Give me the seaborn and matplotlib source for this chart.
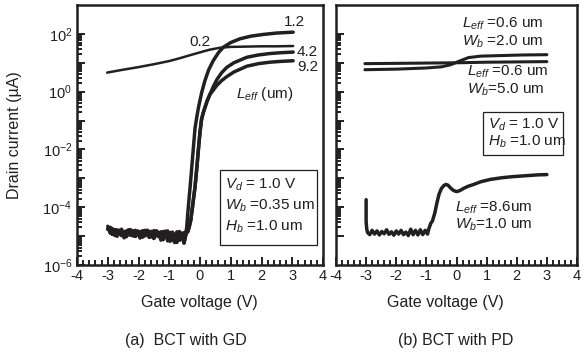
import matplotlib
matplotlib.use('Agg')
import matplotlib.pyplot as plt
import matplotlib.ticker as ticker
from matplotlib.patches import Rectangle
import numpy as np
import pandas as pd
import seaborn as sns

# ---- (a) BCT with GD : drain current (log10 of uA) ----
# shared sub-threshold floor (noisy)
floor_v = [-3.0, -2.92, -2.85, -2.77, -2.7, -2.62, -2.55, -2.47, -2.4, -2.32, -2.25, -2.17,
           -2.1, -2.02, -1.95, -1.87, -1.8, -1.72, -1.65, -1.57, -1.5, -1.42, -1.35, -1.27,
           -1.2, -1.12, -1.05, -0.97, -0.9, -0.82, -0.75, -0.67, -0.6, -0.52, -0.45]
floor_a = [-4.66, -4.90, -4.74, -4.98, -4.78, -4.94, -4.76, -5.06, -4.82, -4.96, -4.78, -5.00,
           -4.80, -4.94, -4.84, -5.04, -4.80, -4.97, -4.83, -5.03, -4.81, -4.99, -4.86, -5.14,
           -4.84, -4.96, -4.82, -5.18, -4.86, -4.98, -5.22, -4.84, -5.10, -4.88, -4.84]
floor_b = [-4.76, -4.70, -4.94, -4.78, -5.00, -4.80, -4.98, -4.84, -5.02, -4.78, -4.97, -4.82,
           -5.01, -4.83, -5.06, -4.82, -4.99, -4.80, -5.04, -4.84, -5.08, -4.82, -5.01, -4.86,
           -5.12, -4.83, -5.16, -4.88, -5.06, -5.22, -4.86, -5.14, -4.90, -5.24, -4.90]

# L_eff = 1.2 um, rising part
l12_v = [-0.43, -0.40, -0.36, -0.32, -0.27, -0.22, -0.16, -0.10, -0.05, 0.05, 0.16, 0.28,
         0.43, 0.6, 0.76, 1.0, 1.3, 1.65, 2.05, 2.5, 3.03]
l12_log = [-4.67, -4.25, -3.75, -3.28, -2.65, -2.0, -1.25, -0.85, -0.55, -0.05, 0.38, 0.75,
           1.07, 1.35, 1.54, 1.70, 1.83, 1.92, 1.98, 2.03, 2.06]

# L_eff = 4.2 / 9.2 um, common rising part then split
pair_v = [-0.40, -0.36, -0.30, -0.24, -0.16, -0.10, -0.04, 0.0, 0.05, 0.10, 0.16, 0.24, 0.32]
pair_log = [-4.85, -4.72, -4.45, -3.95, -3.28, -2.6, -1.85, -1.4, -0.96, -0.75, -0.55, -0.3, -0.1]
top_v = [0.43, 0.55, 0.7, 0.87, 1.1, 1.52, 1.9, 2.27, 2.65, 3.03]
l42_log = [0.17, 0.42, 0.65, 0.84, 1.0, 1.19, 1.27, 1.32, 1.35, 1.37]
l92_log = [0.05, 0.22, 0.38, 0.52, 0.68, 0.88, 0.97, 1.02, 1.05, 1.07]

# L_eff = 0.2 um (punch-through, always on)
l02_v = [-3.02, -2.5, -2.0, -1.5, -1.0, -0.65, -0.3, 0.0, 0.3, 0.65, 1.0, 1.5, 2.0, 2.5, 3.03]
l02_log = [0.66, 0.76, 0.85, 0.95, 1.06, 1.16, 1.27, 1.36, 1.45, 1.52, 1.55, 1.56, 1.57, 1.57, 1.58]

# ---- (b) BCT with PD ----
w20_v = [-3.04, -2.0, -1.0, -0.5, -0.2, 0.1, 0.4, 0.8, 1.5, 2.2, 3.0]
w20_log = [0.76, 0.78, 0.82, 0.86, 0.93, 1.06, 1.18, 1.23, 1.25, 1.27, 1.28]
w50_v = [-3.04, -2.0, -1.0, 0.0, 1.0, 2.0, 3.0]
w50_log = [0.97, 0.98, 0.99, 1.0, 1.02, 1.03, 1.04]

l86_v = [-3.0, -3.0, -2.98,
         -2.95, -2.88, -2.8, -2.72, -2.64, -2.56, -2.48, -2.4, -2.32, -2.24, -2.16, -2.08,
         -2.0, -1.92, -1.84, -1.76, -1.68, -1.6, -1.52, -1.44, -1.36, -1.28, -1.2, -1.12,
         -1.04, -0.96,
         -0.92, -0.85, -0.8, -0.72, -0.65, -0.58, -0.5, -0.42, -0.35, -0.28, -0.2, -0.1,
         0.0, 0.1, 0.25, 0.4, 0.55, 0.8, 1.11, 1.5, 1.88, 2.3, 2.7, 3.0]
l86_log = [-3.74, -4.5, -4.75,
           -4.88, -4.95, -4.80, -4.93, -4.82, -4.96, -4.84, -4.92, -4.78, -4.94, -4.85, -4.97,
           -4.82, -4.93, -4.80, -4.95, -4.86, -4.98, -4.76, -4.95, -4.80, -4.96, -4.78, -4.95,
           -4.80, -4.93,
           -4.75, -4.55, -4.48, -4.2, -3.85, -3.55, -3.35, -3.25, -3.21, -3.24, -3.33, -3.42,
           -3.46, -3.43, -3.34, -3.27, -3.22, -3.12, -3.04, -2.98, -2.94, -2.91, -2.88, -2.87]

INK = '#231f20'


def curve(v, log_i):
    return pd.DataFrame({'vg': v, 'id': 10.0 ** np.asarray(log_i)})


def draw(ax, df, lw):
    sns.lineplot(data=df, x='vg', y='id', ax=ax, color=INK, lw=lw,
                 sort=False, estimator=None, solid_joinstyle='round')


def style_axes(ax, ylabels):
    ax.set_yscale('log')
    ax.set_xlim(-4, 4)
    ax.set_ylim(1e-6, 1e3)
    ax.set_xlabel('')
    ax.set_ylabel('')
    ax.xaxis.set_major_locator(ticker.MultipleLocator(1))
    ax.xaxis.set_minor_locator(ticker.MultipleLocator(0.2))
    ax.xaxis.set_major_formatter(ticker.FormatStrFormatter('%d'))
    if ylabels:
        decades = [10.0 ** e for e in range(-6, 3)]
    else:
        decades = [10.0 ** e for e in range(-5, 3)]
    minors = [m * d for d in decades[:-1] for m in range(2, 10)]
    ax.yaxis.set_major_locator(ticker.FixedLocator(decades))
    ax.yaxis.set_minor_locator(ticker.FixedLocator(minors))
    if ylabels:
        ax.yaxis.set_major_formatter(ticker.FuncFormatter(
            lambda y, pos: '$10^{%d}$' % round(np.log10(y)) if round(np.log10(y)) % 2 == 0 else ''))
    else:
        ax.yaxis.set_major_formatter(ticker.NullFormatter())
    ax.yaxis.set_minor_formatter(ticker.NullFormatter())
    ax.tick_params(which='both', direction='in', colors=INK, labelsize=10.5, width=1.4,
                   left=True, bottom=True, right=False, top=False)
    ax.tick_params(which='major', length=5.5)
    ax.tick_params(which='minor', length=3.5)
    ax.tick_params(axis='x', pad=3)
    for s in ax.spines.values():
        s.set_linewidth(1.8)
        s.set_color(INK)
    ax.set_facecolor('white')


sns.set_theme(style='ticks')
plt.rcParams['font.family'] = ['Liberation Sans', 'DejaVu Sans']
plt.rcParams['mathtext.fontset'] = 'custom'
plt.rcParams['mathtext.rm'] = 'Liberation Sans'
plt.rcParams['mathtext.it'] = 'Liberation Sans:italic'
plt.rcParams['axes.unicode_minus'] = False

fig = plt.figure(figsize=(5.87, 3.54), dpi=100)
ax_a = fig.add_axes([77 / 587, 89 / 354, 246 / 587, 260 / 354])
ax_b = fig.add_axes([336 / 587, 89 / 354, 241 / 587, 260 / 354])

# panel (a)
draw(ax_a, curve(l02_v, l02_log), 1.8)
draw(ax_a, curve(floor_v + l12_v, floor_a + l12_log), 2.5)
draw(ax_a, curve(floor_v + pair_v + top_v, floor_b + pair_log + l42_log), 2.5)
draw(ax_a, curve(floor_v + pair_v + top_v, floor_b + pair_log + l92_log), 2.5)
style_axes(ax_a, True)

fs = 11
ax_a.text(0.0, 10 ** 1.72, '0.2', ha='center', va='center', fontsize=fs, color=INK)
ax_a.text(3.08, 10 ** 2.42, '1.2', ha='center', va='center', fontsize=fs, color=INK)
ax_a.text(3.15, 10 ** 1.37, '4.2', ha='left', va='center', fontsize=fs, color=INK)
ax_a.text(3.15, 10 ** 0.85, '9.2', ha='left', va='center', fontsize=fs, color=INK)
ax_a.text(2.1, 10 ** -0.09, '$L_{eff}$ (um)', ha='center', va='center', fontsize=fs, color=INK)

ax_a.add_patch(Rectangle((0.581, 0.077), 0.394, 0.288, transform=ax_a.transAxes,
                         fill=False, edgecolor=INK, lw=0.9))
ax_a.text(0.602, 0.308, '$V_d$ = 1.0 V', transform=ax_a.transAxes, va='center', fontsize=fs, color=INK)
ax_a.text(0.602, 0.227, '$W_b$ =0.35 um', transform=ax_a.transAxes, va='center', fontsize=fs, color=INK)
ax_a.text(0.602, 0.146, '$H_b$ =1.0 um', transform=ax_a.transAxes, va='center', fontsize=fs, color=INK)

# panel (b)
draw(ax_b, curve(w20_v, w20_log), 2.2)
draw(ax_b, curve(w50_v, w50_log), 2.2)
draw(ax_b, curve(l86_v, l86_log), 2.5)
style_axes(ax_b, False)

ax_b.text(0.523, 0.927, '$L_{eff}$ =0.6 um', transform=ax_b.transAxes, va='center', fontsize=fs, color=INK)
ax_b.text(0.523, 0.858, '$W_b$ =2.0 um', transform=ax_b.transAxes, va='center', fontsize=fs, color=INK)
ax_b.text(0.544, 0.742, '$L_{eff}$ =0.6 um', transform=ax_b.transAxes, va='center', fontsize=fs, color=INK)
ax_b.text(0.544, 0.673, '$W_b$=5.0 um', transform=ax_b.transAxes, va='center', fontsize=fs, color=INK)
ax_b.add_patch(Rectangle((0.610, 0.423), 0.332, 0.165, transform=ax_b.transAxes,
                         fill=False, edgecolor=INK, lw=0.9))
ax_b.text(0.630, 0.538, '$V_d$ = 1.0 V', transform=ax_b.transAxes, va='center', fontsize=fs, color=INK)
ax_b.text(0.630, 0.473, '$H_b$ =1.0 um', transform=ax_b.transAxes, va='center', fontsize=fs, color=INK)
ax_b.text(0.494, 0.219, '$L_{eff}$ =8.6um', transform=ax_b.transAxes, va='center', fontsize=fs, color=INK)
ax_b.text(0.494, 0.154, '$W_b$=1.0 um', transform=ax_b.transAxes, va='center', fontsize=fs, color=INK)

# shared labels and captions
lfs = 11.5
fig.text(15 / 587, 1 - 135 / 354, 'Drain current (\u00b5A)', rotation=90, ha='center', va='center',
         fontsize=lfs, color=INK)
fig.text(199 / 587, 1 - 303 / 354, 'Gate voltage (V)', ha='center', va='center', fontsize=lfs, color=INK)
fig.text(445 / 587, 1 - 303 / 354, 'Gate voltage (V)', ha='center', va='center', fontsize=lfs, color=INK)
fig.text(186 / 587, 1 - 341 / 354, '(a)  BCT with GD', ha='center', va='center', fontsize=lfs, color=INK)
fig.text(456 / 587, 1 - 341 / 354, '(b) BCT with PD', ha='center', va='center', fontsize=lfs, color=INK)

fig.savefig('out.png', dpi=100, facecolor='white')
